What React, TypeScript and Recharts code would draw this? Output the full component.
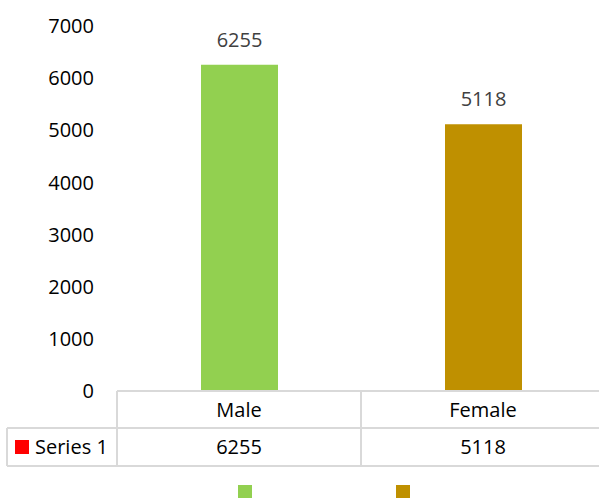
import React from "react";
import { BarChart, Bar, XAxis, YAxis, Cell, LabelList, Legend } from "recharts";

const categories = ["Male", "Female"];
const series1 = [6255, 5118];
const colors = ["#92D050", "#BF9000"];
const yTicks = [0, 1000, 2000, 3000, 4000, 5000, 6000, 7000];
const seriesName = "Series 1";
const seriesColor = "#FF0000";

const data = categories.map((c, i) => ({ name: c, value: series1[i] }));

const FONT = "'Open Sans', sans-serif";
const LINE = "#D9D9D9";
const HALF = 122;
const TOP = 391;
const MID = 428;
const BOT = 466;
const LEFT = 7;

const TableTick = (props: any) => {
  const { x, payload, index } = props;
  const i = categories.indexOf(payload.value);
  const left = x - HALF;
  const right = x + HALF;
  return (
    <g>
      <line x1={left} x2={right} y1={TOP} y2={TOP} stroke={LINE} strokeWidth={2} />
      <line x1={left} x2={right} y1={MID} y2={MID} stroke={LINE} strokeWidth={2} />
      <line x1={left} x2={right} y1={BOT} y2={BOT} stroke={LINE} strokeWidth={2} />
      <line x1={left} x2={left} y1={TOP} y2={BOT} stroke={LINE} strokeWidth={2} />
      <line x1={right} x2={right} y1={TOP} y2={BOT} stroke={LINE} strokeWidth={2} />
      <text x={x} y={417} textAnchor="middle" fontSize={20} fontFamily={FONT} fill="#000">
        {payload.value}
      </text>
      <text x={x} y={454} textAnchor="middle" fontSize={20} fontFamily={FONT} fill="#000">
        {series1[i]}
      </text>
      {index === 0 && (
        <g>
          <line x1={LEFT} x2={left} y1={MID} y2={MID} stroke={LINE} strokeWidth={2} />
          <line x1={LEFT} x2={left} y1={BOT} y2={BOT} stroke={LINE} strokeWidth={2} />
          <line x1={LEFT} x2={LEFT} y1={MID} y2={BOT} stroke={LINE} strokeWidth={2} />
          <rect x={15} y={440} width={14} height={14} fill={seriesColor} />
          <text x={35} y={454} fontSize={20} fontFamily={FONT} fill="#000">
            {seriesName}
          </text>
        </g>
      )}
    </g>
  );
};

const legendLefts = [238, 396];

const LegendContent = () => (
  <div style={{ position: "relative", width: 599, height: 14 }}>
    {categories.map((c, i) => (
      <div
        key={c}
        title={c}
        style={{
          position: "absolute",
          left: legendLefts[i],
          top: 0,
          width: 14,
          height: 14,
          background: colors[i],
        }}
      />
    ))}
  </div>
);

export default function App() {
  return (
    <div
      style={{
        position: "absolute",
        left: 0,
        top: 0,
        width: 599,
        height: 498,
        overflow: "hidden",
        background: "#fff",
      }}
    >
      <BarChart
        width={610}
        height={498}
        data={data}
        margin={{ top: 26, right: 5, bottom: 0, left: 0 }}
      >
        <YAxis
          width={117}
          domain={[0, 7000]}
          ticks={yTicks}
          axisLine={false}
          tickLine={false}
          tickSize={6}
          tickMargin={17}
          interval={0}
          tick={{ fontSize: 20, fontFamily: FONT, fill: "#000" }}
        />
        <XAxis
          dataKey="name"
          height={93}
          axisLine={false}
          tickLine={false}
          interval={0}
          tick={<TableTick />}
        />
        <Legend
          content={<LegendContent />}
          wrapperStyle={{ position: "absolute", left: 0, top: 485, width: 599, height: 14 }}
        />
        <Bar dataKey="value" barSize={77} isAnimationActive={false}>
          {data.map((d, i) => (
            <Cell key={d.name} fill={colors[i]} />
          ))}
          <LabelList
            dataKey="value"
            position="top"
            offset={18}
            fontSize={20}
            fontFamily={FONT}
            fill="#404040"
          />
        </Bar>
      </BarChart>
    </div>
  );
}
